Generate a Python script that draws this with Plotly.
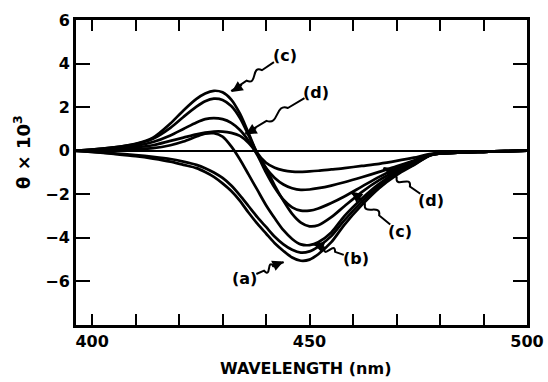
import math
import plotly.graph_objects as go

wavelength = [396, 400, 405, 410, 414, 418, 421, 424, 426, 428, 430, 432, 434, 436, 438, 440,
              442, 444, 446, 448, 450, 452, 455, 458, 462, 466, 470, 474, 478, 484, 490, 495, 500]

curve_1 = [0, 0.05, 0.15, 0.32, 0.6, 1.25, 1.85, 2.38, 2.63, 2.75, 2.68, 2.35, 1.7, 0.8, -0.1, -0.55,
           -0.78, -0.9, -0.96, -0.97, -0.95, -0.92, -0.86, -0.8, -0.7, -0.6, -0.47, -0.32, -0.14, -0.09, -0.05, -0.02, 0]
curve_2 = [0, 0.05, 0.15, 0.3, 0.55, 1.05, 1.55, 2.02, 2.27, 2.39, 2.33, 2.05, 1.5, 0.7, -0.15, -0.8,
           -1.25, -1.55, -1.72, -1.8, -1.78, -1.72, -1.6, -1.45, -1.22, -0.97, -0.72, -0.45, -0.16, -0.09, -0.05, -0.02, 0]
curve_3 = [0, 0.04, 0.1, 0.22, 0.4, 0.7, 1.0, 1.3, 1.45, 1.5, 1.45, 1.28, 0.95, 0.45, -0.2, -1.0,
           -1.7, -2.25, -2.6, -2.75, -2.75, -2.65, -2.4, -2.1, -1.65, -1.2, -0.82, -0.5, -0.17, -0.09, -0.05, -0.02, 0]
curve_4 = [0, 0.03, 0.08, 0.15, 0.25, 0.45, 0.6, 0.75, 0.83, 0.88, 0.88, 0.82, 0.68, 0.35, -0.15, -0.8,
           -1.6, -2.3, -2.9, -3.3, -3.47, -3.42, -3.05, -2.55, -1.9, -1.35, -0.92, -0.56, -0.18, -0.09, -0.05, -0.02, 0]
curve_5 = [0, 0.02, 0.05, 0.08, 0.12, 0.25, 0.42, 0.65, 0.78, 0.8, 0.65, 0.2, -0.4, -1.1, -1.8, -2.5,
           -3.1, -3.65, -4.05, -4.3, -4.33, -4.2, -3.75, -3.0, -2.2, -1.52, -1.0, -0.6, -0.19, -0.09, -0.05, -0.02, 0]
curve_6 = [0, -0.05, -0.12, -0.2, -0.28, -0.38, -0.5, -0.65, -0.8, -1.0, -1.25, -1.6, -2.05, -2.55, -3.05, -3.5,
           -3.95, -4.3, -4.55, -4.68, -4.62, -4.4, -3.92, -3.2, -2.35, -1.62, -1.06, -0.63, -0.19, -0.09, -0.05, -0.02, 0]
curve_7 = [0, -0.06, -0.15, -0.25, -0.36, -0.5, -0.65, -0.8, -0.98, -1.2, -1.5, -1.85, -2.3, -2.85, -3.35, -3.8,
           -4.25, -4.6, -4.9, -5.05, -5.0, -4.75, -4.2, -3.4, -2.5, -1.72, -1.12, -0.66, -0.2, -0.09, -0.05, -0.02, 0]

curves = [curve_1, curve_2, curve_3, curve_4, curve_5, curve_6, curve_7]

x_ticks = [400, 450, 500]
y_ticks = [-6, -4, -2, 0, 2, 4, 6]

# curve labels: text, arrow tip (data), text offset from tip (pixels)
labels = ["(c)", "(d)", "(d)", "(c)", "(b)", "(a)"]
label_x = [432.1, 435.3, 467.1, 459.6, 450.8, 444.0]
label_y = [2.7, 0.75, -0.75, -1.87, -4.26, -5.08]
label_ax = [53, 70, 47, 49, 43, -39]
label_ay = [-36, -42, 33, 40, 15, 17]

FONT = "DejaVu Sans"
W, H = 548, 382
ML, MR, MT, MB = 76, 21, 20, 57
PW, PH = W - ML - MR, H - MT - MB
X_RANGE = [396.3, 500]
Y_RANGE = [-8, 6]


def to_px(x, y):
    px = ML + (x - X_RANGE[0]) / (X_RANGE[1] - X_RANGE[0]) * PW
    py = MT + (Y_RANGE[1] - y) / (Y_RANGE[1] - Y_RANGE[0]) * PH
    return px, py


def to_paper(px, py):
    return (px - ML) / PW, (H - MB - py) / PH


fig = go.Figure()
for c in curves:
    fig.add_trace(go.Scatter(x=wavelength, y=c, mode="lines",
                             line=dict(color="black", width=2.7, shape="spline", smoothing=0.8),
                             showlegend=False, hoverinfo="skip"))

# labels with wavy leader lines ending in an arrowhead
for t, x, y, ax, ay in zip(labels, label_x, label_y, label_ax, label_ay):
    fig.add_annotation(x=x, y=y, text=t, showarrow=False, xshift=ax, yshift=-ay,
                       font=dict(family=FONT, size=16, color="black", weight="bold"))
    px, py = to_px(x, y)
    tx, ty = px + ax, py + ay
    dx, dy = px - tx, py - ty
    L = math.hypot(dx, dy)
    ux, uy = dx / L, dy / L
    nx, ny = -uy, ux
    sx, sy = tx + ux * 13, ty + uy * 11
    seg = math.hypot(px - sx, py - sy)

    def pt(f, off=0.0):
        return sx + ux * seg * f + nx * off, sy + uy * seg * f + ny * off

    amp = 11
    pts = [pt(0), pt(0.28), pt(0.4, amp), pt(0.52, -amp), pt(0.64), pt(1.0)]
    pp = [to_paper(*p) for p in pts]
    path = "M {:.4f},{:.4f} L {:.4f},{:.4f} C {:.4f},{:.4f} {:.4f},{:.4f} {:.4f},{:.4f} L {:.4f},{:.4f}".format(
        pp[0][0], pp[0][1], pp[1][0], pp[1][1], pp[2][0], pp[2][1], pp[3][0], pp[3][1],
        pp[4][0], pp[4][1], pp[5][0], pp[5][1])
    fig.add_shape(type="path", path=path, xref="paper", yref="paper",
                  line=dict(color="black", width=2))
    fig.add_annotation(x=x, y=y, text="", showarrow=True, ax=-ux * 14, ay=-uy * 14,
                       arrowhead=2, arrowsize=1.1, arrowwidth=2, arrowcolor="black")

# axis titles placed by pixel position
fig.add_annotation(xref="paper", yref="paper", x=(305 - ML) / PW, y=(H - MB - 368) / PH,
                   text="WAVELENGTH (nm)", showarrow=False, xanchor="center", yanchor="middle",
                   font=dict(family=FONT, size=16, color="black", weight="bold"))
fig.add_annotation(xref="paper", yref="paper", x=(22 - ML) / PW, y=(H - MB - 152) / PH,
                   text="θ × 10<sup>3</sup>", showarrow=False, textangle=-90,
                   xanchor="center", yanchor="middle",
                   font=dict(family=FONT, size=18, color="black", weight="bold"))

fig.update_layout(
    width=W, height=H,
    margin=dict(l=ML, r=MR, t=MT, b=MB, autoexpand=False),
    paper_bgcolor="white", plot_bgcolor="white",
    font=dict(family=FONT, size=17, color="black", weight="bold"),
    xaxis=dict(range=X_RANGE, tickvals=x_ticks, ticks="inside", ticklen=11, tickwidth=2,
               tickcolor="black", showline=True, linewidth=3, linecolor="black", mirror="ticks",
               showgrid=False, zeroline=False, automargin=False,
               minor=dict(dtick=10, tick0=400, ticks="inside", ticklen=11, tickwidth=2, tickcolor="black", showgrid=False),
               tickfont=dict(family=FONT, size=16, weight="bold")),
    yaxis=dict(range=Y_RANGE, tickvals=y_ticks, ticktext=[str(v).replace("-", "\u2212") for v in y_ticks],
               ticks="inside", ticklen=14, tickwidth=2,
               tickcolor="black", showline=True, linewidth=3, linecolor="black", mirror="ticks",
               showgrid=False, zeroline=True, zerolinecolor="black", zerolinewidth=2, automargin=False,
               tickfont=dict(family=FONT, size=16, weight="bold")),
)

fig.write_html("out.html", config={"displayModeBar": False},
               post_script="document.body.style.margin='0px';document.body.style.padding='0px';")
